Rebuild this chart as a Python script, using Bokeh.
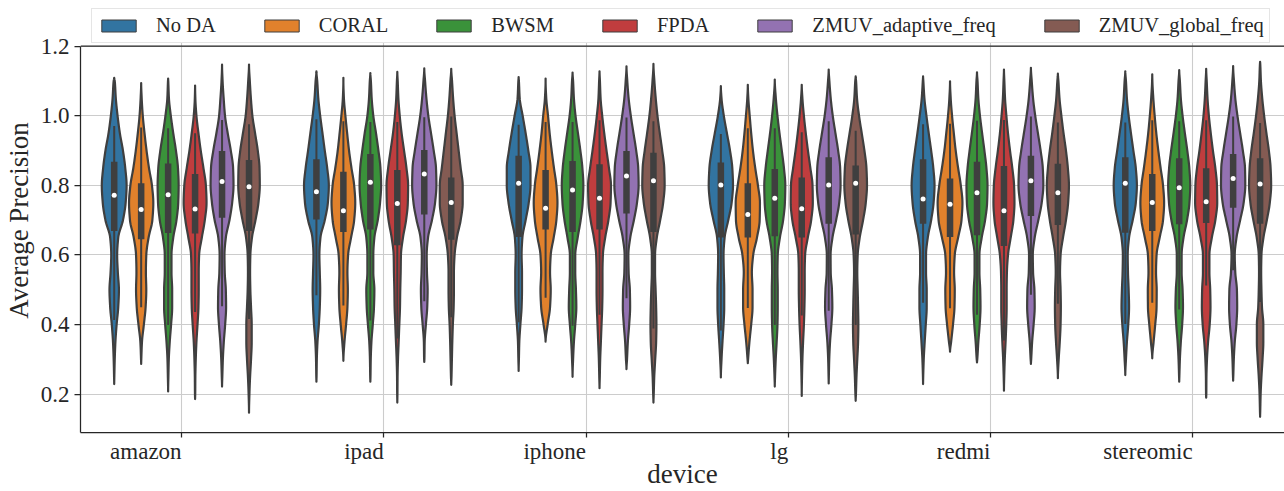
import numpy as np
from bokeh.plotting import figure
from bokeh.models import Range1d, FixedTicker, Legend, LegendItem, Span
from bokeh.embed import file_html
from bokeh.resources import INLINE

devices = ["amazon", "ipad", "iphone", "lg", "redmi", "stereomic"]
methods = ["No DA", "CORAL", "BWSM", "FPDA", "ZMUV_adaptive_freq", "ZMUV_global_freq"]
y_ticks = [0.2, 0.4, 0.6, 0.8, 1.0, 1.2]
y_tick_labels = ["0.2", "0.4", "0.6", "0.8", "1.0", "1.2"]

# y levels (Average Precision) at which violin half-widths were read
levels = [0.15, 0.20, 0.25, 0.30, 0.35, 0.40, 0.45, 0.50, 0.55, 0.60, 0.65,
          0.70, 0.75, 0.80, 0.85, 0.90, 0.95, 1.00, 1.05, 1.10, 1.15]

# violin extent (tips), rows = methods, cols = devices
v_top = [[1.109, 1.128, 1.111, 1.085, 1.113, 1.128],
         [1.094, 1.109, 1.107, 1.089, 1.099, 1.119],
         [1.107, 1.123, 1.124, 1.104, 1.125, 1.131],
         [1.087, 1.126, 1.128, 1.089, 1.133, 1.135],
         [1.147, 1.136, 1.142, 1.133, 1.138, 1.143],
         [1.147, 1.135, 1.149, 1.113, 1.121, 1.155]]
v_bot = [[0.229, 0.236, 0.267, 0.248, 0.229, 0.255],
         [0.287, 0.296, 0.351, 0.289, 0.322, 0.303],
         [0.208, 0.236, 0.250, 0.222, 0.291, 0.236],
         [0.186, 0.176, 0.217, 0.195, 0.210, 0.190],
         [0.222, 0.293, 0.272, 0.231, 0.287, 0.239],
         [0.147, 0.227, 0.176, 0.181, 0.246, 0.135]]

# inner box statistics
q3 = [[0.868, 0.875, 0.885, 0.866, 0.875, 0.881],
      [0.806, 0.839, 0.844, 0.806, 0.820, 0.833],
      [0.863, 0.890, 0.870, 0.847, 0.868, 0.878],
      [0.833, 0.844, 0.861, 0.823, 0.856, 0.849],
      [0.899, 0.902, 0.899, 0.881, 0.885, 0.890],
      [0.873, 0.823, 0.894, 0.857, 0.862, 0.878]]
median = [[0.772, 0.782, 0.806, 0.801, 0.761, 0.806],
          [0.731, 0.727, 0.734, 0.716, 0.746, 0.751],
          [0.773, 0.809, 0.787, 0.763, 0.779, 0.793],
          [0.732, 0.748, 0.763, 0.733, 0.727, 0.753],
          [0.811, 0.833, 0.827, 0.801, 0.813, 0.820],
          [0.796, 0.751, 0.813, 0.806, 0.779, 0.804]]
q1 = [[0.669, 0.702, 0.652, 0.650, 0.690, 0.664],
      [0.645, 0.666, 0.673, 0.650, 0.652, 0.669],
      [0.663, 0.673, 0.666, 0.654, 0.657, 0.688],
      [0.662, 0.628, 0.673, 0.650, 0.626, 0.692],
      [0.707, 0.716, 0.719, 0.690, 0.712, 0.736],
      [0.669, 0.644, 0.666, 0.659, 0.686, 0.690]]
whisk_hi = [[0.971, 0.990, 0.974, 0.948, 0.976, 0.981],
            [0.966, 0.984, 0.982, 0.964, 0.977, 0.987],
            [0.964, 0.982, 0.982, 0.964, 0.986, 0.984],
            [0.950, 0.982, 0.987, 0.953, 0.988, 0.987],
            [0.988, 0.996, 0.995, 0.984, 0.998, 0.998],
            [0.976, 0.998, 0.984, 0.957, 0.981, 0.979]]
whisk_lo = [[0.413, 0.484, 0.407, 0.383, 0.463, 0.402],
            [0.450, 0.455, 0.477, 0.448, 0.447, 0.463],
            [0.399, 0.412, 0.397, 0.399, 0.428, 0.443],
            [0.436, 0.360, 0.428, 0.426, 0.354, 0.512],
            [0.453, 0.467, 0.476, 0.440, 0.486, 0.556],
            [0.416, 0.421, 0.389, 0.399, 0.460, 0.465]]

# relative violin half-widths (percent of max) at `levels`, one row per device
dens_no_da = [
    [0, 0, 1, 4, 9, 18, 30, 35, 27, 22, 30, 65, 85, 92, 82, 65, 42, 25, 12, 4, 0],
    [0, 0, 1, 3, 8, 18, 25, 28, 25, 22, 30, 62, 85, 92, 80, 62, 45, 28, 14, 6, 0],
    [0, 0, 0, 2, 5, 13, 22, 25, 25, 22, 28, 52, 75, 88, 88, 72, 52, 30, 8, 2, 0],
    [0, 0, 1, 5, 12, 20, 25, 25, 22, 20, 28, 55, 80, 90, 85, 68, 45, 22, 5, 0, 0],
    [0, 0, 1, 5, 12, 20, 27, 27, 22, 22, 35, 60, 78, 85, 76, 60, 42, 25, 10, 2, 0],
    [0, 0, 1, 5, 12, 22, 28, 25, 20, 18, 28, 55, 78, 86, 78, 60, 42, 25, 12, 5, 0]]
dens_coral = [
    [0, 0, 0, 1, 6, 20, 33, 38, 35, 38, 55, 83, 90, 80, 58, 40, 25, 12, 4, 0, 0],
    [0, 0, 0, 1, 8, 20, 30, 33, 30, 35, 57, 80, 88, 80, 60, 42, 28, 15, 4, 0, 0],
    [0, 0, 0, 0, 1, 15, 33, 38, 33, 38, 60, 80, 88, 80, 62, 45, 30, 18, 5, 0, 0],
    [0, 0, 0, 2, 12, 25, 35, 35, 30, 40, 68, 88, 90, 75, 55, 38, 25, 14, 4, 0, 0],
    [0, 0, 0, 0, 8, 22, 33, 35, 30, 35, 60, 85, 92, 80, 60, 42, 28, 15, 5, 0, 0],
    [0, 0, 0, 0, 10, 22, 32, 33, 28, 32, 55, 80, 88, 80, 62, 45, 30, 18, 8, 1, 0]]
dens_bwsm = [
    [0, 0, 2, 5, 12, 22, 30, 30, 25, 25, 38, 62, 75, 78, 73, 58, 38, 20, 6, 1, 0],
    [0, 0, 1, 3, 8, 18, 27, 30, 22, 22, 30, 55, 72, 80, 75, 60, 42, 22, 10, 4, 0],
    [0, 0, 1, 4, 10, 20, 28, 25, 20, 20, 38, 60, 75, 80, 73, 58, 40, 22, 10, 4, 0],
    [0, 0, 2, 7, 14, 20, 22, 22, 20, 22, 38, 62, 75, 78, 68, 52, 35, 20, 8, 2, 0],
    [0, 0, 0, 2, 10, 20, 26, 24, 18, 18, 35, 60, 75, 78, 70, 55, 38, 22, 10, 4, 0],
    [0, 0, 1, 5, 12, 22, 28, 25, 18, 18, 32, 58, 76, 82, 75, 60, 42, 25, 12, 5, 0]]
dens_fpda = [
    [0, 1, 2, 5, 10, 18, 25, 27, 27, 30, 50, 72, 85, 80, 62, 42, 25, 10, 2, 0, 0],
    [0, 1, 2, 5, 10, 15, 20, 22, 25, 27, 42, 65, 78, 80, 68, 50, 32, 18, 8, 3, 0],
    [0, 0, 2, 5, 10, 15, 20, 22, 22, 25, 42, 66, 82, 85, 70, 52, 35, 20, 8, 3, 0],
    [0, 0, 2, 5, 10, 16, 20, 22, 22, 25, 45, 70, 82, 80, 64, 46, 30, 16, 5, 0, 0],
    [0, 1, 2, 6, 12, 17, 20, 20, 22, 30, 50, 70, 78, 75, 62, 45, 30, 18, 8, 3, 0],
    [0, 1, 2, 6, 14, 26, 32, 30, 24, 24, 42, 68, 82, 80, 68, 50, 34, 20, 10, 4, 0]]
dens_zmuv_adaptive = [
    [0, 0, 2, 6, 13, 23, 30, 28, 20, 18, 28, 55, 75, 85, 82, 65, 42, 22, 12, 4, 0],
    [0, 0, 0, 1, 3, 12, 22, 25, 20, 18, 28, 57, 80, 90, 87, 70, 50, 30, 16, 6, 0],
    [0, 0, 0, 4, 10, 20, 27, 25, 16, 14, 28, 55, 78, 90, 87, 72, 52, 32, 16, 6, 0],
    [0, 0, 1, 4, 10, 20, 27, 24, 15, 14, 28, 55, 78, 88, 85, 70, 50, 30, 15, 5, 0],
    [0, 0, 0, 2, 9, 20, 28, 26, 16, 14, 28, 55, 80, 92, 88, 72, 52, 32, 16, 6, 0],
    [0, 0, 1, 5, 12, 24, 30, 28, 16, 12, 25, 52, 78, 90, 88, 72, 52, 32, 16, 6, 0]]
dens_zmuv_global = [
    [0, 3, 8, 15, 20, 20, 15, 10, 8, 10, 22, 48, 70, 80, 78, 65, 45, 25, 14, 6, 0],
    [0, 0, 2, 5, 8, 12, 18, 20, 20, 25, 42, 70, 85, 85, 70, 55, 40, 25, 14, 6, 0],
    [0, 2, 6, 13, 20, 22, 20, 16, 12, 12, 25, 50, 72, 83, 80, 65, 47, 30, 17, 7, 0],
    [0, 2, 6, 12, 18, 20, 18, 15, 12, 15, 30, 55, 75, 84, 80, 65, 45, 25, 10, 3, 0],
    [0, 0, 1, 6, 14, 20, 22, 20, 16, 20, 38, 60, 76, 82, 74, 60, 42, 26, 12, 4, 0],
    [1, 4, 10, 18, 24, 24, 14, 10, 8, 10, 25, 50, 72, 82, 78, 65, 47, 30, 16, 6, 1]]
densities = [dens_no_da, dens_coral, dens_bwsm, dens_fpda, dens_zmuv_adaptive, dens_zmuv_global]

colors = ["#3274a1", "#e1812c", "#3a923a", "#c03d3e", "#9372b2", "#845b53"]
GRAY = "#3f3f3f"
SPINE = "#262626"
FONT = "Liberation Serif"

n_hue = len(methods)
slot = 0.8 / n_hue
Y_LOW, Y_TOP, Y_FRAME_TOP = 0.0899, 1.2, 1.3083


def smooth_profile(yk, wk, ys):
    """Monotone cubic curve through the read (level, width) points."""
    yk = np.asarray(yk, float)
    wk = np.asarray(wk, float)
    h = np.diff(yk)
    d = np.diff(wk) / h
    n = len(yk)
    m = np.zeros(n)
    for k in range(1, n - 1):
        if d[k - 1] * d[k] > 0:
            w1 = 2 * h[k] + h[k - 1]
            w2 = h[k] + 2 * h[k - 1]
            m[k] = (w1 + w2) / (w1 / d[k - 1] + w2 / d[k])
    idx = np.clip(np.searchsorted(yk, ys) - 1, 0, n - 2)
    t = (ys - yk[idx]) / h[idx]
    h00 = 2 * t**3 - 3 * t**2 + 1
    h10 = t**3 - 2 * t**2 + t
    h01 = -2 * t**3 + 3 * t**2
    h11 = t**3 - t**2
    out = h00 * wk[idx] + h10 * h[idx] * m[idx] + h01 * wk[idx + 1] + h11 * h[idx] * m[idx + 1]
    return np.clip(out, 0, None)


p = figure(width=1284, height=491,
           x_range=Range1d(-0.5, 5.454), y_range=Range1d(Y_LOW, Y_FRAME_TOP),
           output_backend="svg", toolbar_location=None,
           min_border_left=79, min_border_right=0, min_border_top=8, min_border_bottom=59)
p.background_fill_color = "white"
p.border_fill_color = "white"
p.outline_line_color = None

xt = FixedTicker(ticks=list(range(len(devices))))
yt = FixedTicker(ticks=y_ticks)
p.xaxis.ticker = xt
p.yaxis.ticker = yt
p.xgrid.ticker = xt
p.ygrid.ticker = yt
p.yaxis.bounds = (Y_LOW, Y_TOP)
for g in (p.xgrid, p.ygrid):
    g.grid_line_color = "#cccccc"
    g.grid_line_width = 1.1

p.xaxis.major_label_overrides = {i: d for i, d in enumerate(devices)}
p.xaxis.major_label_orientation = 1e-6   # numeric angle -> labels end at the tick
p.xaxis.major_label_standoff = 14
p.yaxis.major_label_overrides = {t: l for t, l in zip(y_ticks, y_tick_labels)}
p.yaxis.major_label_standoff = 5
p.xaxis.axis_label = "device"
p.yaxis.axis_label = "Average Precision"
p.xaxis.axis_label_standoff = -21
p.yaxis.axis_label_standoff = 4
for ax in (p.xaxis, p.yaxis):
    ax.major_label_text_font = FONT
    ax.major_label_text_font_size = "23px"
    ax.major_label_text_color = SPINE
    ax.axis_label_text_font = FONT
    ax.axis_label_text_font_size = "27px"
    ax.axis_label_text_font_style = "normal"
    ax.axis_label_text_color = SPINE
    ax.axis_line_color = SPINE
    ax.axis_line_width = 1.25
    ax.major_tick_line_color = SPINE
    ax.major_tick_line_width = 1.25
    ax.major_tick_in = 0
    ax.minor_tick_line_color = None
p.xaxis.major_tick_out = 5
p.yaxis.major_tick_out = 6

p.add_layout(Span(location=Y_TOP, dimension="width", line_color=SPINE, line_width=1.25))

legend_items = []
for j, m in enumerate(methods):
    off = (j - (n_hue - 1) / 2) * slot
    xs_list, ys_list = [], []
    cx_list = []
    for i, dev in enumerate(devices):
        cx = i + off
        cx_list.append(cx)
        top, bot = v_top[j][i], v_bot[j][i]
        yk = [bot]
        wk = [0.0]
        for lv, w in zip(levels, densities[j][i]):
            if bot + 0.004 < lv < top - 0.004:
                yk.append(lv)
                wk.append(w / 100.0)
        yk.append(top)
        wk.append(0.0)
        ys = np.linspace(bot, top, 220)
        half = smooth_profile(yk, wk, ys) * slot / 2
        xs_list.append(list(np.concatenate([cx - half, (cx + half)[::-1]])))
        ys_list.append(list(np.concatenate([ys, ys[::-1]])))
    p.patches(xs_list, ys_list, fill_color=colors[j], line_color=GRAY, line_width=2.2,
              line_join="round")
    p.segment(x0=cx_list, y0=whisk_lo[j], x1=cx_list, y1=whisk_hi[j],
              line_color=GRAY, line_width=2.0)
    p.segment(x0=cx_list, y0=q1[j], x1=cx_list, y1=q3[j],
              line_color=GRAY, line_width=6.5, line_cap="butt")
    p.scatter(x=cx_list, y=median[j], size=5, fill_color="white", line_color=None)
    # legend proxy (not drawn in the plot area: NaN geometry)
    proxy = p.quad(left=[np.nan], right=[np.nan], top=[np.nan], bottom=[np.nan],
                   fill_color=colors[j], line_color=GRAY, line_width=1.0)
    legend_items.append(LegendItem(label=m, renderers=[proxy]))

legend = Legend(items=legend_items, orientation="horizontal", location=(11, 389),
                glyph_width=43, glyph_height=15, label_standoff=16, spacing=44,
                padding=5, margin=0, label_height=20,
                label_text_font=FONT, label_text_font_size="20.5px",
                label_text_color=SPINE,
                border_line_color="#cccccc", border_line_width=1,
                background_fill_color="white", background_fill_alpha=1.0)
p.add_layout(legend)

open("out.html", "w").write(file_html(p, INLINE))
